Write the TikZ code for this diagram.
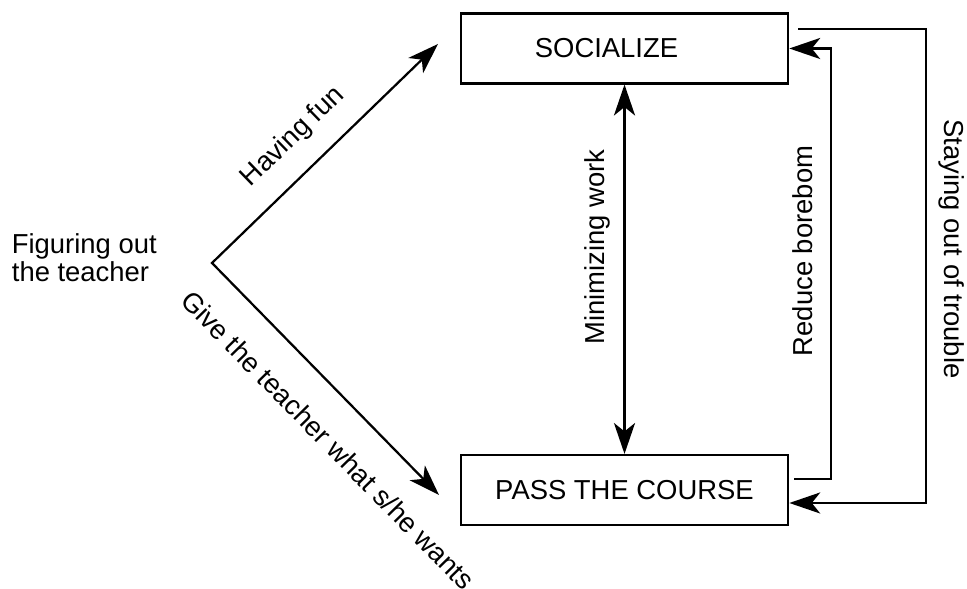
\documentclass[tikz,border=0pt]{standalone}
\usepackage{fontspec}
\setmainfont{Liberation Sans}
\usetikzlibrary{arrows.meta,positioning,calc}

\tikzset{
  goal/.style={draw,line width=1.8pt,minimum width=8.175cm,minimum height=1.74cm,inner sep=0pt,font=\fontsize{19.5}{20}\selectfont},
  tag/.style={inner sep=0pt,font=\fontsize{19.5}{20}\selectfont},
  tip/.tip={Stealth[length=22pt,width=15pt,inset=6pt]},
  link/.style={line width=1.6pt,line join=miter,-tip},
  twolink/.style={line width=1.6pt,line join=miter,tip-tip},
}

\begin{document}
\begin{tikzpicture}[x=0.025cm,y=0.025cm]
\useasboundingbox (0,0) rectangle (967,589);
\node[goal] (soc) at (624.5,540.5) {SOCIALIZE\hspace*{0.9cm}};
\node[goal] (pass) at (624.5,99) {PASS THE COURSE};
\coordinate (apex) at (212,326);
\coordinate (funtip) at (438,545);
\coordinate (givetip) at (439,94);
\node[tag,align=left,left=1.375cm of apex,yshift=4pt] (figure) {Figuring out\\the teacher};
\draw[twolink] (funtip) -- (apex) -- (givetip);
\draw[twolink] (pass.north) -- (soc.south);
\draw[link] ($(pass.east)+(5,11)$) -| ($(soc.east)+(42,0)$) -- (soc.east);
\draw[link] ($(soc.east)+(9,19.5)$) -| ($(pass.east)+(137,-13)$) -- ($(pass.east)+(0,-13)$);
\node[tag,rotate=44.1] (fun) at (293,452) {Having fun};
\node[tag,rotate=-45.6] (give) at (328,149) {Give the teacher what s/he wants};
\node[tag,rotate=90] (minwork) at (597,342) {Minimizing work};
\node[tag,rotate=90] (bored) at (803,338) {Reduce borebom};
\node[tag,rotate=-90] (trouble) at (952,340) {Staying out of trouble};
\end{tikzpicture}
\end{document}
